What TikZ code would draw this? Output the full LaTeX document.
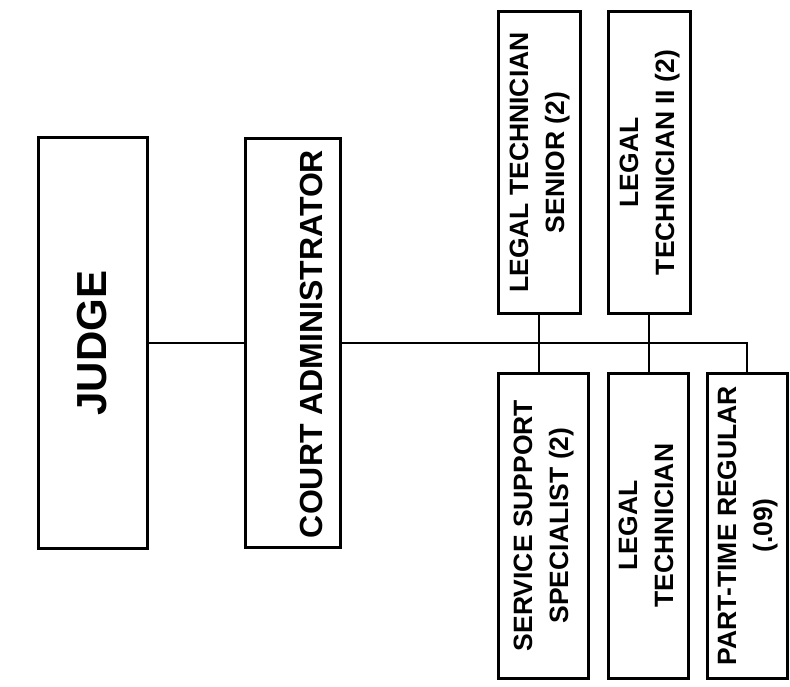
\documentclass[tikz,border=0pt]{standalone}
\usepackage{fontspec}
\setmainfont{Liberation Sans}
\begin{document}
\begin{tikzpicture}[x=1pt,y=-1pt,
  box/.style={draw=black, line width=3pt, fill=white, inner sep=0pt},
  conn/.style={draw=black, line width=2.4pt},
  lbl/.style={inner sep=0pt, font=\bfseries\fontsize{26.5}{36}\selectfont}]
\useasboundingbox (0,0) rectangle (790,687);
% two-level chain at left
\node[box, minimum width=109pt, minimum height=410pt] (judge) at (92.5,343)
  {\rotatebox{90}{\bfseries\fontsize{42}{48}\selectfont JUDGE}};
\node[box, minimum width=95pt, minimum height=409pt] (court) at (292.5,343) {};
\node[inner sep=0pt] (courttext) at (311,344)
  {\rotatebox{90}{\bfseries\fontsize{32}{36}\selectfont COURT ADMINISTRATOR}};
% staff above the bus
\node[box, lbl, minimum width=82pt, minimum height=301pt] (lts) at (539,162.5)
  {\rotatebox{90}{\begin{tabular}{@{}c@{}}LEGAL TECHNICIAN\\SENIOR (2)\end{tabular}}};
\node[box, lbl, minimum width=82pt, minimum height=301pt] (lt2) at (649,162.5)
  {\rotatebox{90}{\begin{tabular}{@{}c@{}}LEGAL\\TECHNICIAN II (2)\end{tabular}}};
% staff below the bus
\node[box, lbl, minimum width=90pt, minimum height=305pt] (sss) at (543,525.5)
  {\rotatebox{90}{\begin{tabular}{@{}c@{}}SERVICE SUPPORT\\SPECIALIST (2)\end{tabular}}};
\node[box, lbl, minimum width=80pt, minimum height=305pt] (lt) at (648,525.5)
  {\rotatebox{90}{\begin{tabular}{@{}c@{}}LEGAL\\TECHNICIAN\end{tabular}}};
\node[box, lbl, minimum width=80pt, minimum height=305pt] (ptr) at (747,525.5)
  {\rotatebox{90}{\begin{tabular}{@{}c@{}}PART-TIME REGULAR\\(.09)\end{tabular}}};
% connectors
\draw[conn] (judge.east) -- (court.west);
\draw[conn] (court.east) -- (court.east -| ptr.north) -- (ptr.north);
\draw[conn] (lts.south) -- (lts.south |- sss.north);
\draw[conn] (lt2.south) -- (lt2.south |- lt.north);
\end{tikzpicture}
\end{document}
